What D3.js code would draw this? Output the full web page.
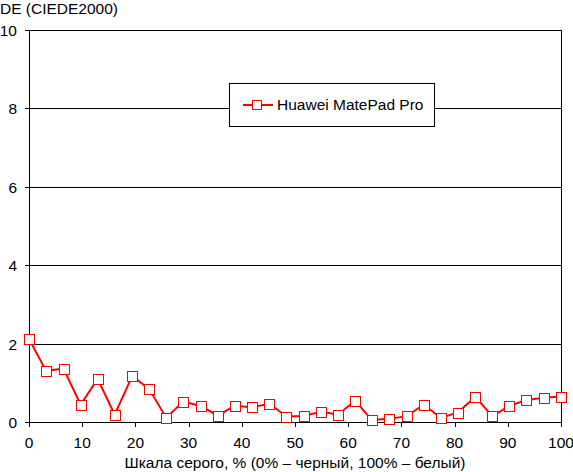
<!DOCTYPE html>
<html>
<head>
<meta charset="utf-8">
<script src="https://cdn.jsdelivr.net/npm/d3@7"></script>
<style>
  body { margin: 0; background: #fff; }
  svg text { font-family: "Liberation Sans", Arial, sans-serif; font-size: 15.5px; fill: #000; }
</style>
</head>
<body>
<div id="chart"></div>
<script>
var gray_levels = [0, 3.2, 6.5, 9.7, 12.9, 16.1, 19.4, 22.6, 25.8, 29.0, 32.3, 35.5, 38.7, 41.9, 45.2, 48.4,
                   51.6, 54.8, 58.1, 61.3, 64.5, 67.7, 71.0, 74.2, 77.4, 80.6, 83.9, 87.1, 90.3, 93.5, 96.8, 100];
var de_values = [2.12, 1.31, 1.36, 0.44, 1.10, 0.19, 1.17, 0.84, 0.11, 0.52, 0.41, 0.16, 0.42, 0.37, 0.47, 0.14,
                 0.15, 0.26, 0.19, 0.54, 0.05, 0.08, 0.15, 0.44, 0.11, 0.24, 0.64, 0.15, 0.41, 0.56, 0.62, 0.65];
var x_ticks = [0, 10, 20, 30, 40, 50, 60, 70, 80, 90, 100];
var y_ticks = [0, 2, 4, 6, 8, 10];
var series_name = "Huawei MatePad Pro";
var y_title = "DE (CIEDE2000)";
var x_title = "Шкала серого, % (0% – черный, 100% – белый)";

var chart_width = 573, chart_height = 472,
    plot_left = 29, plot_right = 561, plot_top = 30, plot_bottom = 422;

var svg = d3.select("#chart").append("svg")
    .attr("width", chart_width)
    .attr("height", chart_height);

var x = d3.scaleLinear().domain([0, 100]).range([plot_left, plot_right]);
var y = d3.scaleLinear().domain([0, 10]).range([plot_bottom, plot_top]);

// gridlines (also serve as the y ticks)
svg.append("g")
    .selectAll("line")
    .data(y_ticks)
    .enter().append("line")
    .attr("x1", plot_left - 4).attr("x2", plot_right)
    .attr("y1", function (d) { return Math.round(y(d)) + 0.5; })
    .attr("y2", function (d) { return Math.round(y(d)) + 0.5; })
    .attr("stroke", "#000");

// side borders
[plot_left, plot_right].forEach(function (px) {
  svg.append("line")
      .attr("x1", px + 0.5).attr("x2", px + 0.5)
      .attr("y1", plot_top).attr("y2", plot_bottom + 5)
      .attr("stroke", "#000");
});

// x ticks
svg.append("g")
    .selectAll("line")
    .data(x_ticks)
    .enter().append("line")
    .attr("x1", function (d) { return Math.round(x(d)) + 0.5; })
    .attr("x2", function (d) { return Math.round(x(d)) + 0.5; })
    .attr("y1", plot_bottom).attr("y2", plot_bottom + 5)
    .attr("stroke", "#000");

svg.append("g")
    .selectAll("text")
    .data(x_ticks)
    .enter().append("text")
    .attr("x", function (d) { return x(d); })
    .attr("y", plot_bottom + 26)
    .attr("text-anchor", "middle")
    .text(function (d) { return d; });

svg.append("g")
    .selectAll("text")
    .data(y_ticks)
    .enter().append("text")
    .attr("x", 17)
    .attr("y", function (d) { return y(d) + 6; })
    .attr("text-anchor", "end")
    .text(function (d) { return d; });

svg.append("text")
    .attr("x", 0).attr("y", 14)
    .text(y_title);

svg.append("text")
    .attr("x", 295).attr("y", 468)
    .attr("text-anchor", "middle")
    .text(x_title);

// series
var points = gray_levels.map(function (g, i) { return [g, de_values[i]]; });

svg.append("path")
    .datum(points)
    .attr("fill", "none")
    .attr("stroke", "#ff0000")
    .attr("stroke-width", 2)
    .attr("d", d3.line()
        .x(function (d) { return x(d[0]); })
        .y(function (d) { return y(d[1]); }));

svg.append("g")
    .selectAll("rect")
    .data(points)
    .enter().append("rect")
    .attr("x", function (d) { return Math.round(x(d[0])) - 4.5; })
    .attr("y", function (d) { return Math.round(y(d[1])) - 4.5; })
    .attr("width", 10).attr("height", 10)
    .attr("fill", "#fff")
    .attr("stroke", "#ff0000")
    .attr("stroke-width", 1);

// legend
var legend = svg.append("g");
legend.append("rect")
    .attr("x", 229.5).attr("y", 83.5)
    .attr("width", 205).attr("height", 43)
    .attr("fill", "#fff")
    .attr("stroke", "#000");
legend.append("line")
    .attr("x1", 243).attr("x2", 273)
    .attr("y1", 105).attr("y2", 105)
    .attr("stroke", "#ff0000").attr("stroke-width", 2);
legend.append("rect")
    .attr("x", 252.5).attr("y", 100.5)
    .attr("width", 9).attr("height", 9)
    .attr("fill", "#fff")
    .attr("stroke", "#ff0000");
legend.append("text")
    .attr("x", 277).attr("y", 110)
    .text(series_name);
</script>
</body>
</html>
